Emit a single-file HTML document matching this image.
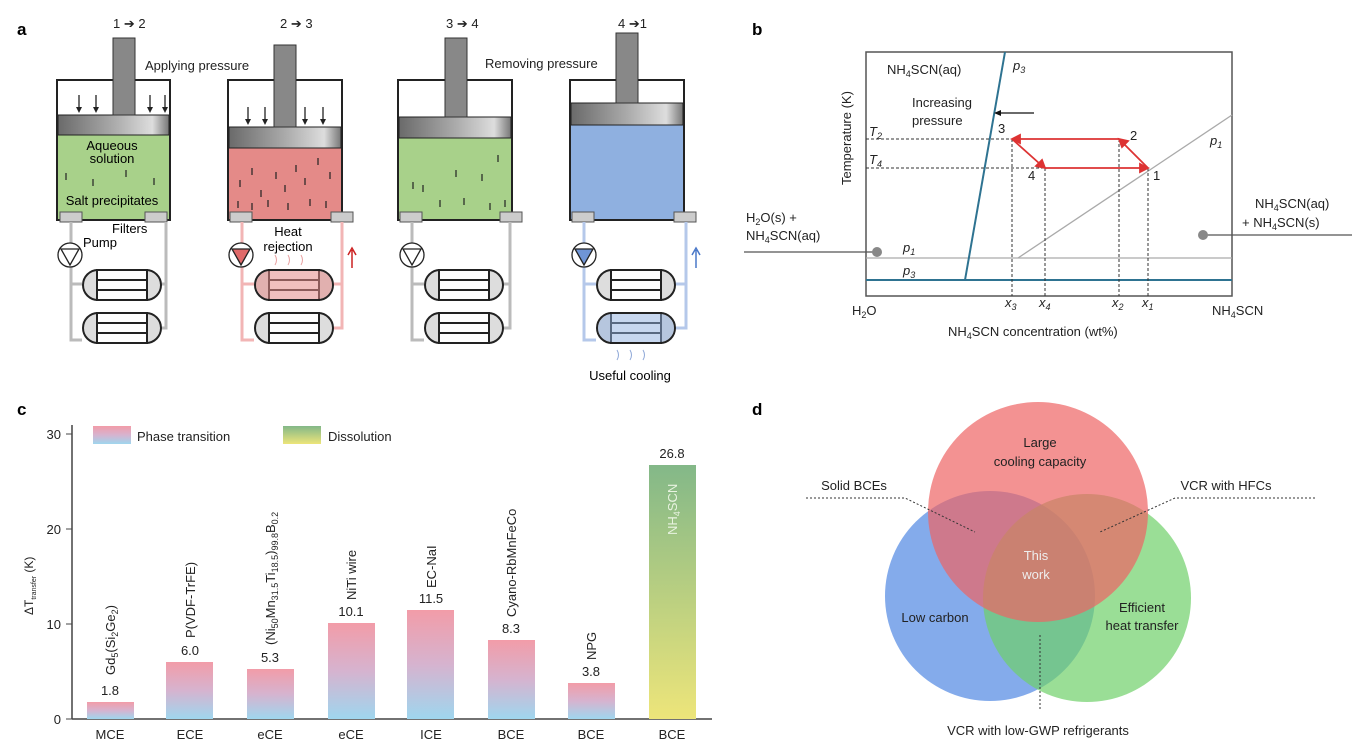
<!DOCTYPE html>
<html><head><meta charset="utf-8"><style>
html,body{margin:0;padding:0;background:#fff}
svg{display:block;font-family:"Liberation Sans",Arial,sans-serif}
</style></head><body>
<svg width="1364" height="752" viewBox="0 0 1364 752" xmlns="http://www.w3.org/2000/svg">
<defs>
<linearGradient id="pt" x1="0" y1="0" x2="0" y2="1"><stop offset="0" stop-color="#f29ca8"/><stop offset="0.5" stop-color="#d6b3cf"/><stop offset="1" stop-color="#9fd6ee"/></linearGradient>
<linearGradient id="ds" x1="0" y1="0" x2="0" y2="1"><stop offset="0" stop-color="#83b888"/><stop offset="1" stop-color="#ede57a"/></linearGradient>
<linearGradient id="pl" x1="0" y1="0" x2="1" y2="0"><stop offset="0" stop-color="#6a6a6a"/><stop offset="0.5" stop-color="#aaa"/><stop offset="0.85" stop-color="#ddd"/><stop offset="1" stop-color="#777"/></linearGradient>
<g id="exch"><rect x="0" y="0" width="78" height="30" rx="15" fill="#ddd" stroke="#222" stroke-width="2"/><rect x="14" y="0" width="50" height="30" fill="#fff" stroke="#222" stroke-width="2"/><line x1="14" y1="10" x2="64" y2="10" stroke="#222" stroke-width="2"/><line x1="14" y1="20" x2="64" y2="20" stroke="#222" stroke-width="2"/></g>
<g id="filt"><rect x="0" y="0" width="22" height="10" fill="#ccc" stroke="#555"/></g>
<g id="arr"><line x1="0" y1="0" x2="0" y2="16" stroke="#222" stroke-width="1.3"/><path d="M-3 12 L0 18 L3 12z" fill="#222"/></g>
</defs>
<text x="17" y="35" font-size="17" font-weight="bold">a</text>
<text x="752" y="35" font-size="17" font-weight="bold">b</text>
<text x="17" y="415" font-size="17" font-weight="bold">c</text>
<text x="752" y="415" font-size="17" font-weight="bold">d</text>

<!-- panel a -->
<g font-size="13" fill="#222">
<text x="113" y="28">1 ➔ 2</text><text x="280" y="28">2 ➔ 3</text><text x="446" y="28">3 ➔ 4</text><text x="618" y="28">4 ➔1</text>
<text x="145" y="70">Applying pressure</text><text x="485" y="68">Removing pressure</text>
</g>
<!-- cyl1 -->
<g>
<rect x="57" y="80" width="113" height="140" fill="#fff" stroke="#222" stroke-width="2"/>
<rect x="58" y="135" width="111" height="84" fill="#a8d18a"/>
<rect x="58" y="115" width="111" height="20" fill="url(#pl)" stroke="#222"/>
<rect x="113" y="38" width="22" height="77" fill="#888" stroke="#333"/>
<use href="#arr" x="79" y="95"/><use href="#arr" x="96" y="95"/><use href="#arr" x="150" y="95"/><use href="#arr" x="165" y="95"/>
<g stroke="#222" stroke-width="1.2"><line x1="66" y1="173" x2="66" y2="180"/><line x1="93" y1="179" x2="93" y2="186"/><line x1="126" y1="170" x2="126" y2="177"/><line x1="154" y1="178" x2="154" y2="185"/></g>
<text x="112" y="150" font-size="13" text-anchor="middle">Aqueous</text><text x="112" y="163" font-size="13" text-anchor="middle">solution</text>
<text x="112" y="205" font-size="13" text-anchor="middle">Salt precipitates</text>
<use href="#filt" x="60" y="212"/><use href="#filt" x="145" y="212"/>
<text x="112" y="233" font-size="13">Filters</text><text x="83" y="247" font-size="13">Pump</text>
</g>
<!-- cyl2 -->
<g>
<rect x="228" y="80" width="114" height="140" fill="#fff" stroke="#222" stroke-width="2"/>
<rect x="229" y="148" width="112" height="71" fill="#e48a88"/>
<rect x="229" y="127" width="112" height="21" fill="url(#pl)" stroke="#222"/>
<rect x="274" y="45" width="22" height="82" fill="#888" stroke="#333"/>
<use href="#arr" x="248" y="107"/><use href="#arr" x="265" y="107"/><use href="#arr" x="305" y="107"/><use href="#arr" x="323" y="107"/>
<g stroke="#222" stroke-width="1.2"><line x1="240" y1="180" x2="240" y2="187"/><line x1="252" y1="168" x2="252" y2="175"/><line x1="261" y1="190" x2="261" y2="197"/><line x1="276" y1="172" x2="276" y2="179"/><line x1="285" y1="185" x2="285" y2="192"/><line x1="296" y1="165" x2="296" y2="172"/><line x1="305" y1="178" x2="305" y2="185"/><line x1="318" y1="158" x2="318" y2="165"/><line x1="330" y1="172" x2="330" y2="179"/><line x1="238" y1="201" x2="238" y2="208"/><line x1="252" y1="203" x2="252" y2="210"/><line x1="268" y1="200" x2="268" y2="207"/><line x1="288" y1="203" x2="288" y2="210"/><line x1="310" y1="199" x2="310" y2="206"/><line x1="326" y1="201" x2="326" y2="208"/></g>
<use href="#filt" x="230" y="212"/><use href="#filt" x="331" y="212"/>
<text x="288" y="236" font-size="13" text-anchor="middle">Heat</text><text x="288" y="251" font-size="13" text-anchor="middle">rejection</text>
</g>
<!-- cyl3 -->
<g>
<rect x="398" y="80" width="114" height="140" fill="#fff" stroke="#222" stroke-width="2"/>
<rect x="399" y="138" width="112" height="81" fill="#a8d18a"/>
<rect x="399" y="117" width="112" height="21" fill="url(#pl)" stroke="#222"/>
<rect x="445" y="38" width="22" height="79" fill="#888" stroke="#333"/>
<g stroke="#222" stroke-width="1.2"><line x1="413" y1="182" x2="413" y2="189"/><line x1="423" y1="185" x2="423" y2="192"/><line x1="456" y1="170" x2="456" y2="177"/><line x1="482" y1="174" x2="482" y2="181"/><line x1="498" y1="155" x2="498" y2="162"/><line x1="440" y1="200" x2="440" y2="207"/><line x1="464" y1="198" x2="464" y2="205"/><line x1="490" y1="203" x2="490" y2="210"/><line x1="505" y1="200" x2="505" y2="207"/></g>
<use href="#filt" x="400" y="212"/><use href="#filt" x="500" y="212"/>
</g>
<!-- cyl4 -->
<g>
<rect x="570" y="80" width="114" height="140" fill="#fff" stroke="#222" stroke-width="2"/>
<rect x="571" y="125" width="112" height="94" fill="#8fb0e0"/>
<rect x="571" y="103" width="112" height="22" fill="url(#pl)" stroke="#222"/>
<rect x="616" y="33" width="22" height="70" fill="#888" stroke="#333"/>
<use href="#filt" x="572" y="212"/><use href="#filt" x="674" y="212"/>
<text x="630" y="380" font-size="13" text-anchor="middle">Useful cooling</text>
<g stroke="#8fa8d8" fill="none"><path d="M617 350 q3 5 0 10"/><path d="M630 350 q3 5 0 10"/><path d="M643 350 q3 5 0 10"/></g>
</g>
<g stroke="#e8a0a0" fill="none"><path d="M275 255 q3 5 0 10"/><path d="M288 255 q3 5 0 10"/><path d="M301 255 q3 5 0 10"/></g>
<!-- pipes & exchangers -->
<g fill="none" stroke-width="3">
<path d="M71 222 V340 H82 M71 284 H82 M160 284 H166 M160 328 H166 V222" stroke="#bbb"/>
<path d="M242 222 V340 H254 M242 284 H254 M332 284 H342 M332 328 H342 V222" stroke="#f2b5b5"/>
<path d="M412 222 V340 H424 M412 284 H424 M502 284 H510 M502 328 H510 V222" stroke="#bbb"/>
<path d="M584 222 V340 H596 M584 284 H596 M674 284 H686 M674 328 H686 V222" stroke="#b5c8ea"/>
</g>
<g>
<use href="#exch" x="83" y="270"/><use href="#exch" x="83" y="313"/>
<use href="#exch" x="255" y="270"/><use href="#exch" x="255" y="313"/>
<use href="#exch" x="425" y="270"/><use href="#exch" x="425" y="313"/>
<use href="#exch" x="597" y="270"/><use href="#exch" x="597" y="313"/>
</g>
<rect x="256" y="271" width="76" height="28" rx="14" fill="#e48a88" opacity="0.55"/>
<rect x="598" y="314" width="76" height="28" rx="14" fill="#8fb0e0" opacity="0.5"/>
<g stroke="#222" stroke-width="1.3">
<circle cx="70" cy="255" r="12" fill="#fff"/><path d="M61 249 H79 L70 265 Z" fill="#fff"/>
<circle cx="241" cy="255" r="12" fill="#fff"/><path d="M232 249 H250 L241 265 Z" fill="#e06a6a"/>
<circle cx="412" cy="255" r="12" fill="#fff"/><path d="M403 249 H421 L412 265 Z" fill="#fff"/>
<circle cx="584" cy="255" r="12" fill="#fff"/><path d="M575 249 H593 L584 265 Z" fill="#6f95d6"/>
</g>
<path d="M352 268 V250 M348 255 L352 248 L356 255" stroke="#c22" fill="none" stroke-width="1.5"/>
<path d="M696 268 V250 M692 255 L696 248 L700 255" stroke="#4a78c8" fill="none" stroke-width="1.5"/>

<!-- panel b -->
<g font-size="13" fill="#222">
<rect x="866" y="52" width="366" height="244" fill="none" stroke="#555" stroke-width="1.5"/>
<line x1="866" y1="258" x2="1232" y2="258" stroke="#aaa" stroke-width="1.3"/>
<line x1="866" y1="280" x2="1232" y2="280" stroke="#2e7391" stroke-width="2"/>
<line x1="965" y1="280" x2="1005" y2="52" stroke="#2e7391" stroke-width="2"/>
<line x1="1018" y1="258" x2="1232" y2="115" stroke="#aaa" stroke-width="1.3"/>
<g stroke="#333" stroke-dasharray="3,2" stroke-width="1">
<line x1="866" y1="139" x2="1012" y2="139"/><line x1="866" y1="168" x2="1148" y2="168"/>
<line x1="1012" y1="139" x2="1012" y2="296"/><line x1="1045" y1="168" x2="1045" y2="296"/>
<line x1="1119" y1="139" x2="1119" y2="296"/><line x1="1148" y1="168" x2="1148" y2="296"/>
</g>
<g stroke="#d33" stroke-width="1.8" fill="#d33">
<line x1="1119" y1="139" x2="1016" y2="139"/><path d="M1012 139 l8 -4 v8z"/>
<line x1="1148" y1="168" x2="1122" y2="142"/><path d="M1119 139 l9 2 l-6 6z"/>
<line x1="1012" y1="139" x2="1040" y2="164"/><path d="M1045 168 l-9 -2 l6 -6z"/>
<line x1="1045" y1="168" x2="1142" y2="168"/><path d="M1148 168 l-8 -4 v8z"/>
</g>
<line x1="1034" y1="113" x2="996" y2="113" stroke="#111" stroke-width="1.3"/><path d="M994 113 l7 -3 v6z" fill="#111"/>
<text x="887" y="74">NH<tspan font-size="9" dy="3">4</tspan><tspan dy="-3">SCN(aq)</tspan></text>
<text x="1013" y="70" font-style="italic">p<tspan font-size="9" dy="3">3</tspan></text>
<text x="912" y="107">Increasing</text><text x="912" y="125">pressure</text>
<text x="869" y="136" font-style="italic">T<tspan font-size="9" dy="3">2</tspan></text>
<text x="869" y="164" font-style="italic">T<tspan font-size="9" dy="3">4</tspan></text>
<text x="998" y="133">3</text><text x="1130" y="140">2</text><text x="1153" y="180">1</text><text x="1028" y="180">4</text>
<text x="1210" y="145" font-style="italic">p<tspan font-size="9" dy="3">1</tspan></text>
<text x="903" y="252" font-style="italic">p<tspan font-size="9" dy="3">1</tspan></text>
<text x="903" y="275" font-style="italic">p<tspan font-size="9" dy="3">3</tspan></text>
<text x="746" y="222">H<tspan font-size="9" dy="3">2</tspan><tspan dy="-3">O(s) +</tspan></text>
<text x="746" y="240">NH<tspan font-size="9" dy="3">4</tspan><tspan dy="-3">SCN(aq)</tspan></text>
<line x1="744" y1="252" x2="877" y2="252" stroke="#555" stroke-width="1.3"/><circle cx="877" cy="252" r="5" fill="#888"/>
<text x="1255" y="208">NH<tspan font-size="9" dy="3">4</tspan><tspan dy="-3">SCN(aq)</tspan></text>
<text x="1242" y="227">+ NH<tspan font-size="9" dy="3">4</tspan><tspan dy="-3">SCN(s)</tspan></text>
<line x1="1203" y1="235" x2="1352" y2="235" stroke="#555" stroke-width="1.3"/><circle cx="1203" cy="235" r="5" fill="#888"/>
<text x="852" y="315">H<tspan font-size="9" dy="3">2</tspan><tspan dy="-3">O</tspan></text>
<text x="1212" y="315">NH<tspan font-size="9" dy="3">4</tspan><tspan dy="-3">SCN</tspan></text>
<g font-style="italic"><text x="1005" y="307">x<tspan font-size="9" dy="3">3</tspan></text><text x="1039" y="307">x<tspan font-size="9" dy="3">4</tspan></text><text x="1112" y="307">x<tspan font-size="9" dy="3">2</tspan></text><text x="1142" y="307">x<tspan font-size="9" dy="3">1</tspan></text></g>
<text x="948" y="336">NH<tspan font-size="9" dy="3">4</tspan><tspan dy="-3">SCN concentration (wt%)</tspan></text>
<text transform="translate(851,185) rotate(-90)">Temperature (K)</text>
</g>

<!-- panel c -->
<g font-size="13" fill="#222">
<line x1="72" y1="425" x2="72" y2="719" stroke="#444" stroke-width="1.5"/>
<line x1="72" y1="719" x2="712" y2="719" stroke="#444" stroke-width="1.5"/>
<g stroke="#444"><line x1="66" y1="434" x2="72" y2="434"/><line x1="66" y1="529" x2="72" y2="529"/><line x1="66" y1="624" x2="72" y2="624"/><line x1="66" y1="719" x2="72" y2="719"/></g>
<text x="61" y="439" text-anchor="end">30</text><text x="61" y="534" text-anchor="end">20</text><text x="61" y="629" text-anchor="end">10</text><text x="61" y="724" text-anchor="end">0</text>
<text transform="translate(33,615) rotate(-90)" font-size="12">ΔT<tspan font-size="7" dy="3">transfer</tspan><tspan dy="-3"> (K)</tspan></text>
<rect x="93" y="426" width="38" height="18" fill="url(#pt)"/><text x="137" y="441">Phase transition</text>
<rect x="283" y="426" width="38" height="18" fill="url(#ds)"/><text x="328" y="441">Dissolution</text>
<rect x="87" y="702" width="47" height="17" fill="url(#pt)"/>
<rect x="166" y="662" width="47" height="57" fill="url(#pt)"/>
<rect x="247" y="669" width="47" height="50" fill="url(#pt)"/>
<rect x="328" y="623" width="47" height="96" fill="url(#pt)"/>
<rect x="407" y="610" width="47" height="109" fill="url(#pt)"/>
<rect x="488" y="640" width="47" height="79" fill="url(#pt)"/>
<rect x="568" y="683" width="47" height="36" fill="url(#pt)"/>
<rect x="649" y="465" width="47" height="254" fill="url(#ds)"/>
<g text-anchor="middle"><text x="110" y="695">1.8</text><text x="190" y="655">6.0</text><text x="270" y="662">5.3</text><text x="351" y="616">10.1</text><text x="431" y="603">11.5</text><text x="511" y="633">8.3</text><text x="591" y="676">3.8</text><text x="672" y="458">26.8</text>
<text x="110" y="739">MCE</text><text x="190" y="739">ECE</text><text x="270" y="739">eCE</text><text x="351" y="739">eCE</text><text x="431" y="739">ICE</text><text x="511" y="739">BCE</text><text x="591" y="739">BCE</text><text x="672" y="739">BCE</text></g>
<text transform="translate(115,675) rotate(-90)">Gd<tspan font-size="9" dy="3">5</tspan><tspan dy="-3">(Si</tspan><tspan font-size="9" dy="3">2</tspan><tspan dy="-3">Ge</tspan><tspan font-size="9" dy="3">2</tspan><tspan dy="-3">)</tspan></text>
<text transform="translate(195,638) rotate(-90)">P(VDF-TrFE)</text>
<text transform="translate(275,645) rotate(-90)">(Ni<tspan font-size="9" dy="3">50</tspan><tspan dy="-3">Mn</tspan><tspan font-size="9" dy="3">31.5</tspan><tspan dy="-3">Ti</tspan><tspan font-size="9" dy="3">18.5</tspan><tspan dy="-3">)</tspan><tspan font-size="9" dy="3">99.8</tspan><tspan dy="-3">B</tspan><tspan font-size="9" dy="3">0.2</tspan></text>
<text transform="translate(356,600) rotate(-90)">NiTi wire</text>
<text transform="translate(436,588) rotate(-90)">EC-NaI</text>
<text transform="translate(516,617) rotate(-90)">Cyano-RbMnFeCo</text>
<text transform="translate(596,660) rotate(-90)">NPG</text>
<text transform="translate(677,535) rotate(-90)" fill="#e8f3e0">NH<tspan font-size="9" dy="3">4</tspan><tspan dy="-3">SCN</tspan></text>
</g>

<!-- panel d -->
<g>
<circle cx="990" cy="596" r="105" fill="#6f9ce8" opacity="0.85"/>
<circle cx="1087" cy="598" r="104" fill="#6fd06a" opacity="0.7"/>
<circle cx="1038" cy="512" r="110" fill="#ee6464" opacity="0.7"/>
</g>
<g font-size="13" fill="#222" text-anchor="middle">
<text x="1040" y="447">Large</text><text x="1040" y="466">cooling capacity</text>
<text x="935" y="622">Low carbon</text>
<text x="1142" y="612">Efficient</text><text x="1142" y="630">heat transfer</text>
<text x="1036" y="560" fill="#eee">This</text><text x="1036" y="579" fill="#eee">work</text>
<text x="854" y="490">Solid BCEs</text><text x="1226" y="490">VCR with HFCs</text>
<text x="1038" y="735">VCR with low-GWP refrigerants</text>
</g>
<g stroke="#333" stroke-dasharray="2,2" fill="none" stroke-width="1">
<path d="M806 498 H905 L975 532"/><path d="M1315 498 H1175 L1100 532"/><path d="M1040 635 V710"/>
</g>
</svg>
</body></html>
